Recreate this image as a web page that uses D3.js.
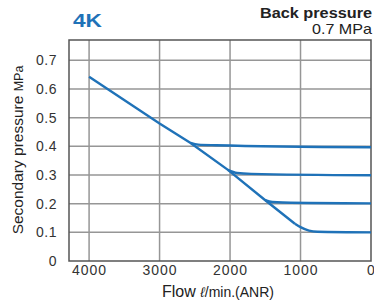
<!DOCTYPE html>
<html>
<head>
<meta charset="utf-8">
<script src="https://cdn.jsdelivr.net/npm/d3@7"></script>
<style>
  body { margin: 0; background: #fff; }
  text { font-family: "Liberation Sans", Arial, sans-serif; }
</style>
</head>
<body>
<svg width="374" height="304"></svg>
<script>
// ticks
const flowTicks = [4000, 3000, 2000, 1000, 0];
const pressureTicks = [0, 0.1, 0.2, 0.3, 0.4, 0.5, 0.6, 0.7];

// main line (full flow, before regulation)
const mainFlow = [4000, 3000, 2560, 2030, 1500, 1080];
const mainPressure = [0.643, 0.480, 0.412, 0.318, 0.212, 0.130];

// set pressure branches
const flow04 = [2560, 2450, 2200, 0];
const pres04 = [0.412, 0.406, 0.404, 0.397];
const flow03 = [2030, 1900, 1700, 0];
const pres03 = [0.318, 0.307, 0.304, 0.299];
const flow02 = [1500, 1400, 1250, 0];
const pres02 = [0.212, 0.206, 0.204, 0.201];
const flow01 = [1080, 1000, 880, 760, 0];
const pres01 = [0.130, 0.118, 0.106, 0.102, 0.100];

const svg = d3.select("svg");
const pLeft = 69, pRight = 371, pTop = 40, pBottom = 261;

const x = d3.scaleLinear().domain([4285, 0]).range([pLeft, pRight]);
const y = d3.scaleLinear().domain([0, 0.771]).range([pBottom, pTop]);

// gridlines
svg.append("g")
  .selectAll("line")
  .data(flowTicks.filter(d => d > 0))
  .enter()
  .append("line")
  .attr("x1", d => x(d)).attr("x2", d => x(d))
  .attr("y1", pTop).attr("y2", pBottom)
  .attr("stroke", "#969696")
  .attr("stroke-width", 1.5);

svg.append("g")
  .selectAll("line")
  .data(pressureTicks.filter(d => d > 0))
  .enter()
  .append("line")
  .attr("x1", pLeft).attr("x2", pRight)
  .attr("y1", d => y(d)).attr("y2", d => y(d))
  .attr("stroke", "#969696")
  .attr("stroke-width", 1.5);

// frame
svg.append("rect")
  .attr("x", pLeft).attr("y", pTop)
  .attr("width", pRight - pLeft).attr("height", pBottom - pTop)
  .attr("fill", "none")
  .attr("stroke", "#555")
  .attr("stroke-width", 1.5);

// axes (labels only)
const xAxis = svg.append("g")
  .attr("transform", `translate(0,${pBottom})`)
  .call(d3.axisBottom(x).tickValues(flowTicks).tickSize(0).tickPadding(4).tickFormat(d3.format("d")));
xAxis.select(".domain").remove();
xAxis.selectAll("text")
  .attr("font-size", 14)
  .attr("letter-spacing", 1)
  .attr("fill", "#333")
  .attr("font-family", "Liberation Sans, Arial, sans-serif");

const yAxis = svg.append("g")
  .attr("transform", `translate(${pLeft},0)`)
  .call(d3.axisLeft(y).tickValues(pressureTicks).tickSize(0).tickPadding(12).tickFormat(d => d === 0 ? "0" : d3.format(".1f")(d)));
yAxis.select(".domain").remove();
yAxis.selectAll("text")
  .attr("font-size", 14)
  .attr("letter-spacing", 0.5)
  .attr("fill", "#333")
  .attr("font-family", "Liberation Sans, Arial, sans-serif");

// curves
const line = d3.line()
  .x(d => x(d[0]))
  .y(d => y(d[1]));
const curved = d3.line()
  .x(d => x(d[0]))
  .y(d => y(d[1]))
  .curve(d3.curveMonotoneX);

const blue = "#1f72b8";
svg.append("path")
  .datum(d3.zip(mainFlow, mainPressure))
  .attr("d", line)
  .attr("fill", "none")
  .attr("stroke", blue)
  .attr("stroke-width", 2.4);

[[flow04, pres04], [flow03, pres03], [flow02, pres02], [flow01, pres01]].forEach(s => {
  svg.append("path")
    .datum(d3.zip(s[0], s[1]))
    .attr("d", curved)
    .attr("fill", "none")
    .attr("stroke", blue)
    .attr("stroke-width", 2.4);
});

// titles
svg.append("text")
  .attr("x", 73).attr("y", 27)
  .attr("font-size", 18)
  .attr("font-weight", "bold")
  .attr("fill", "#1f72b8")
  .attr("textLength", 29)
  .attr("lengthAdjust", "spacingAndGlyphs")
  .text("4K");

svg.append("text")
  .attr("x", 260).attr("y", 18)
  .attr("font-size", 14)
  .attr("font-weight", "bold")
  .attr("fill", "#222")
  .attr("textLength", 112)
  .attr("lengthAdjust", "spacingAndGlyphs")
  .text("Back pressure");

svg.append("text")
  .attr("x", 312).attr("y", 34)
  .attr("font-size", 14.5)
  .attr("fill", "#222")
  .attr("textLength", 60)
  .attr("lengthAdjust", "spacingAndGlyphs")
  .text("0.7 MPa");

const xt = svg.append("text")
  .attr("x", 218).attr("y", 297)
  .attr("text-anchor", "middle")
  .attr("fill", "#222");
xt.append("tspan").attr("font-size", 16).text("Flow ");
xt.append("tspan").attr("font-size", 14).attr("font-style", "italic").text("ℓ");
xt.append("tspan").attr("font-size", 14).text("/min.(ANR)");

const yt = svg.append("text")
  .attr("transform", "translate(23,150) rotate(-90)")
  .attr("text-anchor", "middle")
  .attr("fill", "#222");
yt.append("tspan").attr("font-size", 15.5).text("Secondary pressure ");
yt.append("tspan").attr("font-size", 12.5).text("MPa");
</script>
</body>
</html>
